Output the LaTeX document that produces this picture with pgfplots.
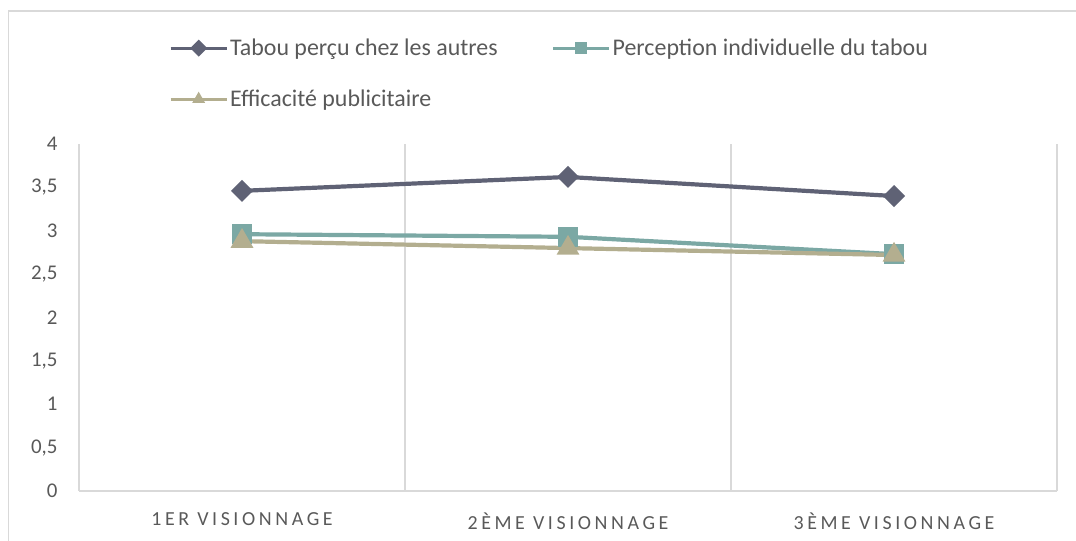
\documentclass[border=0pt]{standalone}
\usepackage{fontspec}
\setmainfont{Carlito}
\usepackage{pgfplots}
\pgfplotsset{compat=1.18}
\definecolor{s1}{HTML}{5F6275}
\definecolor{s2}{HTML}{7BA8A4}
\definecolor{s3}{HTML}{B3AE8F}
\definecolor{txt}{HTML}{595959}
\definecolor{grd}{HTML}{D9D9D9}
\begin{document}
\begin{tikzpicture}[x=1bp,y=1bp]
\useasboundingbox (0,0) rectangle (1076,541);
\draw[grd, line width=1.2bp] (8.5,0) -- (8.5,530) -- (1076,530);
\begin{axis}[at={(79bp,50bp)}, anchor=south west, scale only axis,
  width=978bp, height=347bp,
  xmin=-0.5, xmax=2.5, ymin=0, ymax=4,
  ytick={0,0.5,...,4},
  xtick={0,1,2},
  xticklabels={1ER VISIONNAGE,2ÈME VISIONNAGE,3ÈME VISIONNAGE},
  minor xtick={-0.5,0.5,1.5,2.5},
  xminorgrids, minor grid style={grd, line width=1.2bp},
  axis lines*=left, axis line style={grd, line width=1.2bp},
  major tick length=0, minor tick length=0,
  /pgf/number format/use comma,
  /pgf/number format/assume math mode=true,
  yticklabel style={font=\fontsize{21}{21}\selectfont, text=txt, xshift=-18bp},
  xticklabel style={font=\fontsize{20}{20}\selectfont\addfontfeature{LetterSpace=18}, text=txt, yshift=-18bp},
  legend columns=2,
  legend style={at={(0.092,1.303)}, anchor=north west, draw=none, fill=none,
    inner sep=0pt, row sep=33bp,
    font=\fontsize{24}{24}\selectfont, text=txt,
    nodes={inner xsep=2bp, inner ysep=0pt},
    /tikz/every even column/.append style={column sep=52bp}},
  legend cell align=left,
  legend image code/.code={\draw[line width=3bp, mark size=4.5bp, mark repeat=2, mark phase=2] plot coordinates {(0bp,0bp) (28bp,0bp) (56bp,0bp)};},
  every axis plot/.append style={line width=4.2bp},
]
\addplot[s1, mark=square*, mark size=5.7bp, mark options={solid, rotate=45}] coordinates {(0,3.46) (1,3.62) (2,3.40)};
\addlegendentry{Tabou perçu chez les autres}
\addplot[s2, mark=square*, mark size=8bp] coordinates {(0,2.96) (1,2.93) (2,2.73)};
\addlegendentry{Perception individuelle du tabou}
\addplot[s3, mark=triangle*, mark size=9bp] coordinates {(0,2.88) (1,2.80) (2,2.72)};
\addlegendentry{Efficacité publicitaire}
\end{axis}
\end{tikzpicture}
\end{document}
